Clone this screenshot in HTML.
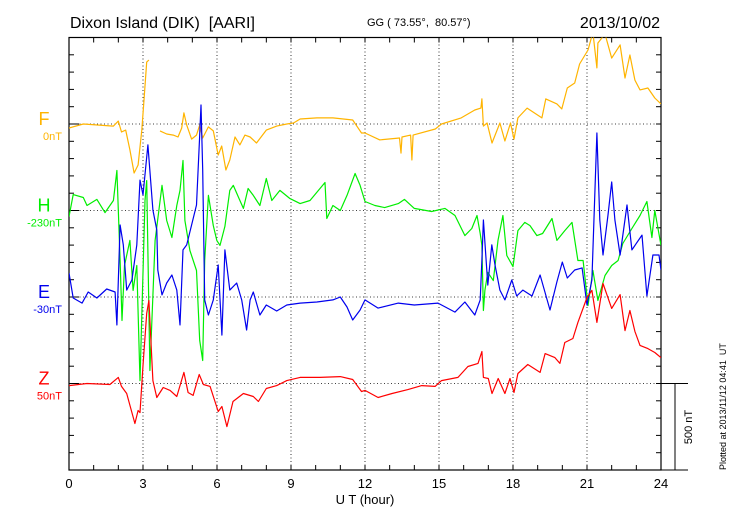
<!DOCTYPE html>
<html><head><meta charset="utf-8"><style>
body{margin:0;background:#fff;}
svg{display:block;font-family:"Liberation Sans",sans-serif;}
text{white-space:pre;}
</style></head><body>
<svg id="chart" width="730" height="520" viewBox="0 0 730 520">
<text x="70" y="28" font-size="16">Dixon Island (DIK)  [AARI]</text>
<text x="367" y="26" font-size="11">GG ( 73.55°,  80.57°)</text>
<text x="660" y="28" font-size="16" text-anchor="end">2013/10/02</text>
<text x="365" y="504" font-size="13" text-anchor="middle">U T (hour)</text>
<text x="692" y="427" font-size="11" text-anchor="middle" transform="rotate(-90 692 427)">500 nT</text>
<text x="726" y="470" font-size="9" transform="rotate(-90 726 470)">Plotted at 2013/11/12 04:41  UT</text>
<g id="axes"></g>
<g id="series" clip-path="url(#clip)"></g>
<defs><clipPath id="clip"><rect x="69" y="37.5" width="592" height="432.5"/></clipPath></defs>
<g id="labels"></g>
</svg>
<script>
const xTicks=[0,3,6,9,12,15,18,21,24];
const compNames=["F","H","E","Z"];
const compOffsets=["0nT","-230nT","-30nT","50nT"];
const fTime=[0,0.58,1.8,2.0,2.13,2.3,2.47,2.64,2.8,2.95,3.04,3.15,3.24,3.3,3.69,3.96,4.23,4.42,4.57,4.66,4.77,4.97,5.17,5.3,5.42,5.65,5.85,6.05,6.19,6.36,6.52,6.73,6.93,7.13,7.34,7.6,8.0,8.42,8.83,9.1,9.37,10.05,10.7,11.5,11.86,12.0,12.6,13.4,13.46,13.5,13.85,13.9,13.95,14.85,15.1,15.9,16.45,16.7,16.74,16.8,16.95,17.15,17.47,17.67,17.9,18.04,18.2,18.57,19.17,19.33,19.78,19.98,20.2,20.5,20.7,21.04,21.24,21.4,21.44,21.73,22.0,22.34,22.54,22.74,22.94,23.15,23.47,23.75,24];
const fVals=[-23,0,-12,17,-46,-35,-150,-283,-237,-35,139,358,370,null,-40,-58,-64,-75,-23,64,-6,-87,-64,-6,-81,-17,-40,-179,-127,-266,-208,-75,-121,-64,-75,-110,-35,-12,0,6,29,35,35,23,-52,-52,-92,-81,-168,-75,-64,-208,-64,-29,0,35,81,92,145,-12,6,-110,6,-98,6,-87,35,92,35,145,116,87,208,237,347,428,530,324,468,520,381,457,266,399,254,197,208,150,116];
const hTime=[0,0.17,0.58,0.73,1.13,1.46,1.8,1.94,2.07,2.15,2.25,2.47,2.6,2.75,2.88,3.08,3.15,3.28,3.49,3.77,3.96,4.17,4.37,4.5,4.62,4.7,4.9,5.17,5.3,5.42,5.5,5.65,5.85,5.99,6.12,6.32,6.52,6.66,6.93,7.07,7.26,7.47,7.74,8.0,8.22,8.55,8.96,9.37,9.77,10.38,10.45,10.7,11.0,11.27,11.6,11.8,12.0,12.4,12.8,13.35,13.6,14.0,14.7,15.24,15.65,16.05,16.33,16.54,16.67,16.74,16.8,16.86,16.98,17.2,17.39,17.59,17.75,18.0,18.2,18.48,18.69,18.97,19.2,19.58,19.78,20.1,20.39,20.63,20.84,21.04,21.24,21.44,21.73,22.0,22.26,22.45,22.82,23.15,23.43,23.63,23.75,24];
const hVals=[-35,92,75,29,64,-12,58,231,-289,-636,-318,-173,-462,-318,-983,58,173,-925,-173,145,-58,-156,29,116,289,-58,-231,-347,-751,-867,-289,87,-87,-173,-202,-92,116,145,58,12,127,87,29,185,58,116,69,40,58,162,-46,29,0,87,214,145,52,29,17,40,64,12,-6,12,-29,-145,-104,-29,-133,-202,-578,-462,-358,-405,-173,-29,-260,-324,-116,-69,-87,-145,-133,-46,-173,-116,-69,-289,-289,-549,-347,-520,-376,-318,-289,-191,-104,-29,52,-156,0,-202];
const eTime=[0,0.17,0.53,0.78,1.13,1.53,1.87,1.94,2.07,2.2,2.34,2.55,2.75,2.88,3.0,3.2,3.4,3.56,3.6,3.77,3.96,4.17,4.37,4.5,4.62,4.77,4.97,5.17,5.3,5.35,5.42,5.5,5.65,5.85,6.05,6.2,6.32,6.52,6.8,7.0,7.2,7.34,7.47,7.74,8.0,8.42,8.83,9.37,10.05,10.7,11.0,11.27,11.5,11.8,12.0,12.53,13.35,14.0,14.96,15.65,16.05,16.45,16.67,16.74,16.8,16.98,17.14,17.27,17.47,17.67,17.95,18.15,18.4,18.77,19.1,19.5,19.78,20.0,20.2,20.5,20.8,21.0,21.2,21.4,21.52,21.65,21.85,22.0,22.13,22.34,22.62,22.82,23.23,23.43,23.67,23.92,24];
const eVals=[139,-6,-35,29,-6,46,29,-162,416,301,40,98,301,676,590,879,503,387,156,12,81,127,40,-162,272,301,416,532,936,1110,734,-17,-104,-17,185,-220,272,40,81,-17,-191,-17,29,-104,-46,-81,-46,-35,-29,-17,0,-58,-133,-75,-17,-64,-35,-46,-35,-87,-29,-104,-17,214,445,69,301,185,40,-17,98,6,40,6,127,-75,87,202,110,156,168,-46,98,948,445,243,474,665,445,243,532,272,358,6,243,243,156];
const zTime=[0,0.73,1.66,2.0,2.13,2.34,2.67,2.8,2.88,3.0,3.15,3.24,3.3,3.4,3.56,3.82,4.1,4.37,4.66,4.83,5.03,5.28,5.45,5.72,6.05,6.2,6.4,6.65,7.07,7.47,7.68,8.0,8.42,8.83,9.37,10.17,11.0,11.5,11.86,12.0,12.53,13.1,13.74,14.3,14.84,15.1,15.77,16.17,16.58,16.74,16.8,17.0,17.15,17.4,17.67,17.88,18.04,18.2,18.6,19.1,19.3,19.7,19.9,20.1,20.43,20.63,21.0,21.2,21.4,21.65,22.0,22.34,22.54,22.74,22.94,23.15,23.47,23.75,24];
const zVals=[-12,0,-6,35,-17,-58,-231,-156,-168,104,405,480,306,17,-81,-23,-40,-75,64,-52,-69,52,-6,-17,-162,-133,-249,-104,-58,-75,-104,-29,-12,17,35,35,40,23,-46,-40,-81,-58,-35,-12,-17,17,35,98,116,185,35,29,-58,29,-58,29,-52,58,110,64,173,150,116,237,260,353,497,538,353,578,434,514,306,422,301,220,202,179,150];

const X0=69,X1=661,Y0=37.5,Y1=470;
const PXNT=86.5/500;
const baselines=[124,210.5,297,383.5];
const colors=["#ffb400","#00ee00","#0000ee","#ff0000"];
function xs(h){return X0+h*(X1-X0)/24;}
function ys(i,v){return baselines[i]-v*PXNT;}
const NS="http://www.w3.org/2000/svg";
function mk(tag,attrs,parent){const e=document.createElementNS(NS,tag);for(const k in attrs)e.setAttribute(k,attrs[k]);parent.appendChild(e);return e;}
const axes=document.getElementById('axes');
xTicks.forEach((t,i)=>{
  if(i>0&&i<xTicks.length-1){const g=mk('line',{x1:xs(t),x2:xs(t),y1:Y0,y2:Y1,stroke:'#000','stroke-width':0.8,'stroke-dasharray':'1,2.5'},axes);
  
  }
  const tl=mk('text',{x:xs(t),y:488,'font-size':13,'text-anchor':'middle'},axes);tl.textContent=t;
  
  
});
baselines.forEach((b,i)=>{
  const g=mk('line',{x1:X0,x2:X1,y1:b,y2:b,stroke:'#000','stroke-width':0.8,'stroke-dasharray':'1,2.5'},axes);
  
  
  mk('line',{x1:X0,x2:X0+10,y1:b,y2:b,stroke:'#000','stroke-width':1},axes);
});
for(let h=1;h<24;h++){
  mk('line',{x1:xs(h),x2:xs(h),y1:Y0,y2:Y0+5,stroke:'#000','stroke-width':1},axes);
  mk('line',{x1:xs(h),x2:xs(h),y1:Y1,y2:Y1-5,stroke:'#000','stroke-width':1},axes);
}
for(let k=1;k<25;k++){const y=Y1-k*100*PXNT;if(y<Y0+2)break;
  mk('line',{x1:X0,x2:X0+5,y1:y,y2:y,stroke:'#000','stroke-width':1},axes);
  mk('line',{x1:X1,x2:X1-5,y1:y,y2:y,stroke:'#000','stroke-width':1},axes);}
const frame=mk('rect',{x:X0,y:Y0,width:X1-X0,height:Y1-Y0,fill:'none',stroke:'#000','stroke-width':1.2},axes);


mk('line',{x1:X1,x2:688,y1:baselines[3],y2:baselines[3],stroke:'#000','stroke-width':1},axes);
mk('line',{x1:X1,x2:688,y1:Y1,y2:Y1,stroke:'#000','stroke-width':1},axes);
const sb=mk('line',{x1:675,x2:675,y1:baselines[3],y2:Y1,stroke:'#000','stroke-width':1},axes);


const series=document.getElementById('series');
const times=[fTime,hTime,eTime,zTime],vals=[fVals,hVals,eVals,zVals];
for(let i=0;i<4;i++){
  let d='',pen=false;
  times[i].forEach((t,j)=>{const v=vals[i][j];if(v===null){pen=false;return;}
    d+=(pen?'L':'M')+xs(t).toFixed(1)+','+ys(i,v).toFixed(1);pen=true;});
  const p=mk('path',{d:d,fill:'none',stroke:colors[i],'stroke-width':1.2,'stroke-linejoin':'round'},series);
  
  
}
const labels=document.getElementById('labels');
for(let i=0;i<4;i++){
  const a=mk('text',{x:44,y:baselines[i]+1,'font-size':18,'text-anchor':'middle',fill:colors[i]},labels);a.textContent=compNames[i];
  
  
  const b=mk('text',{x:62,y:baselines[i]+16,'font-size':11,'text-anchor':'end',fill:colors[i]},labels);b.textContent=compOffsets[i];
  
  
}
</script>
</body></html>
